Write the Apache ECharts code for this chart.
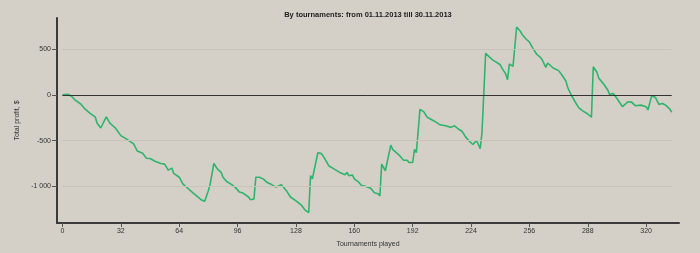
<!DOCTYPE html>
<html>
<head>
<meta charset="utf-8">
<script src="https://cdn.jsdelivr.net/npm/echarts@6/dist/echarts.min.js"></script>
<style>
html,body{margin:0;padding:0;background:#d4d0c8;}
#c{width:700px;height:253px;}
</style>
</head>
<body>
<div id="c"></div>
<script>
// Tournament index (x) and cumulative profit in $ (y)
var tournaments = [0,3,5,7,10,12,15,18,19,21,22,24,26,29,32,35,39,41,44,46,48,51,54,56,58,60,61,64,66,69,72,73,76,78,79,80,81,82,83,84,85,87,88,90,93,95,97,99,100,102,103,104,105,106,108,110,112,114,115,117,118,120,121,123,125,128,131,133,135,136,137,138,140,142,144,146,149,152,155,156,157,159,160,162,164,166,167,169,171,173,174,175,176,177,178,180,181,183,185,187,189,190,192,193,194,195,196,198,199,200,202,205,207,208,210,213,215,217,219,221,223,225,227,228,229,230,231,232,234,236,238,240,241,243,244,245,247,248,249,251,252,254,256,258,260,262,263,265,266,267,269,272,274,276,277,279,281,283,285,288,290,291,293,294,297,299,300,302,304,307,308,310,312,314,315,317,318,320,321,322,323,325,326,327,329,331,333,334];
var profit = [0,6,-15,-58,-100,-147,-200,-244,-309,-362,-355,-241,-309,-362,-445,-481,-535,-613,-639,-693,-696,-728,-750,-757,-822,-800,-858,-900,-973,-1026,-1080,-1087,-1145,-1162,-1155,-1044,-973,-965,-750,-768,-811,-847,-900,-947,-983,-1016,-1062,-1073,-1062,-1116,-1145,-1145,-1137,-900,-900,-918,-954,-973,-962,-1008,-1015,-983,-1000,-1054,-1116,-1159,-1205,-1259,-1285,-882,-918,-908,-632,-642,-703,-775,-811,-847,-872,-847,-883,-876,-918,-947,-990,-998,-990,-1019,-1069,-1080,-1105,-757,-775,-829,-822,-549,-596,-632,-667,-714,-714,-739,-739,-596,-632,-650,-158,-183,-194,-244,-266,-301,-327,-316,-338,-355,-338,-373,-398,-459,-506,-542,-499,-542,-589,-409,-409,455,415,380,355,329,290,229,165,337,312,312,742,695,660,613,577,506,444,409,383,301,348,330,294,265,211,151,79,-4,-75,-140,-172,-209,-244,308,247,183,111,50,3,14,-40,-129,-118,-75,-79,-118,-129,-112,-112,-129,-165,-183,-11,-25,-65,-104,-94,-118,-155,-190];
var xTicks = [0,32,64,96,128,160,192,224,256,288,320];
var yTicks = [-1000,-500,0,500];
var gridValues = [500,-500,-1000];
var titleText = 'By tournaments: from 01.11.2013 till 30.11.2013';

var seriesData = tournaments.map(function(t,i){return [t, profit[i]];});
var lastX = tournaments[tournaments.length-1];
var gridLines = gridValues.map(function(v){return [{coord:[0,v]},{coord:[lastX,v]}];});

var font = 'Liberation Sans';
var chart = echarts.init(document.getElementById('c'), null, {renderer:'canvas'});
chart.setOption({
  backgroundColor:'#d4d0c8',
  animation:false,
  title:{text:titleText,left:363,top:6,textAlign:'center',
    textStyle:{fontFamily:font,fontSize:7.5,fontWeight:'bold',color:'#222'}},
  grid:{left:57,right:21,top:18,bottom:27},
  xAxis:{type:'value',min:-3,max:338,
    name:'Tournaments played',nameLocation:'middle',nameGap:18,
    nameTextStyle:{fontFamily:font,fontSize:7,color:'#333'},
    axisLine:{onZero:false,lineStyle:{color:'#3a3a3a',width:2}},
    axisTick:{show:true,inside:false,length:4,customValues:xTicks,lineStyle:{color:'#555',width:1}},
    axisLabel:{customValues:xTicks,fontFamily:font,fontSize:7,color:'#333',margin:5},
    splitLine:{show:false}},
  yAxis:{type:'value',min:-1400,max:840,
    name:'Total profit, $',nameLocation:'middle',nameGap:33,
    nameTextStyle:{fontFamily:font,fontSize:7,color:'#333'},
    axisLine:{show:true,onZero:false,lineStyle:{color:'#3a3a3a',width:2}},
    axisTick:{show:true,inside:false,length:5,customValues:yTicks,lineStyle:{color:'#555',width:1}},
    axisLabel:{customValues:yTicks,fontFamily:font,fontSize:7,color:'#333',margin:6,
      formatter:function(v){ if(v===-1000) return '-1 000'; return String(v);}},
    splitLine:{show:false}},
  series:[
    {type:'line',data:[],z:1,silent:true,
      markLine:{silent:true,symbol:'none',label:{show:false},animation:false,
        data:gridLines,
        lineStyle:{type:'solid',width:1,color:'#c8c4bc'}}},
    {type:'line',data:[],z:2,silent:true,
      markLine:{silent:true,symbol:'none',label:{show:false},animation:false,
        data:[[{coord:[0,0]},{coord:[lastX,0]}]],
        lineStyle:{type:'solid',width:1,color:'#333'}}},
    {type:'line',data:seriesData,z:3,showSymbol:false,symbol:'none',
      lineStyle:{color:'#2fb46c',width:1.6},itemStyle:{color:'#2fb46c'}}
  ]
});
</script>
</body>
</html>
